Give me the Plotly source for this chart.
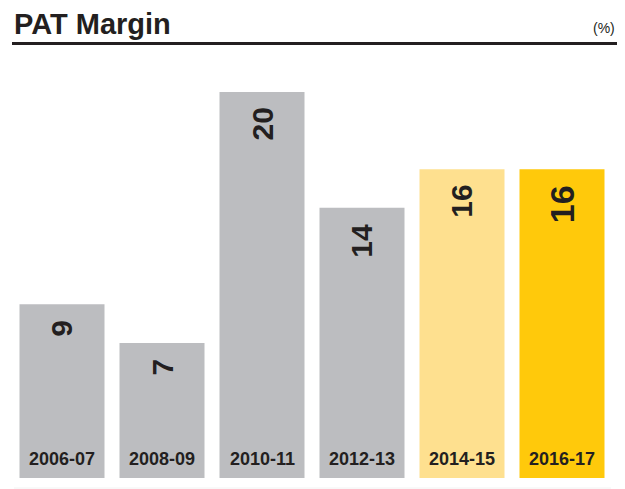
import plotly.graph_objects as go

categories = ["2006-07", "2008-09", "2010-11", "2012-13", "2014-15", "2016-17"]
values = [9, 7, 20, 14, 16, 16]
bar_colors = ["#bcbdc0", "#bcbdc0", "#bcbdc0", "#bcbdc0", "#fee08f", "#ffc90b"]
value_font_sizes = [30, 30, 30, 30, 30, 34]

title_text = "PAT Margin"
unit_text = "(%)"

OFF = 0  # body margin removed via post_script
W, H = 625, 489
ml, mr, mt, mb = 12, 13, 53, 11
plot_h = H - mt - mb
plot_w = W - ml - mr
ymax = 22.02

TXT = "#231f20"
FONT = "Liberation Sans, Arial, Helvetica, sans-serif"

fig = go.Figure()
fig.add_trace(go.Bar(
    x=categories, y=values,
    marker=dict(color=bar_colors, line=dict(width=0)),
    hoverinfo="x+y",
))

annotations = []
for c, v, s in zip(categories, values, value_font_sizes):
    annotations.append(dict(
        x=c, y=v, xref="x", yref="y", text=f"<b>{v}</b>", showarrow=False,
        textangle=-90, xanchor="center", yanchor="top", yshift=-14,
        font=dict(family=FONT, size=s, color=TXT),
    ))
    annotations.append(dict(
        x=c, y=0, xref="x", yref="y", text=f"<b>{c}</b>", showarrow=False,
        xanchor="center", yanchor="bottom", yshift=7,
        font=dict(family=FONT, size=18, color=TXT),
    ))

def py(pix):
    return (H - mb - (pix - OFF)) / plot_h

def px(pix):
    return ((pix - OFF) - ml) / plot_w

annotations.append(dict(
    x=px(12), y=py(23.5), xref="paper", yref="paper", text=f"<b>{title_text}</b>",
    showarrow=False, xanchor="left", yanchor="middle",
    font=dict(family=FONT, size=29, color=TXT),
))
annotations.append(dict(
    x=px(617), y=py(28), xref="paper", yref="paper", text=unit_text,
    showarrow=False, xanchor="right", yanchor="middle",
    font=dict(family=FONT, size=14, color=TXT),
))

shapes = [
    dict(type="line", xref="paper", yref="paper", x0=px(12), x1=px(617),
         y0=py(43.5), y1=py(43.5), line=dict(color=TXT, width=3)),
    dict(type="line", xref="paper", yref="paper", x0=px(14), x1=px(611),
         y0=py(488), y1=py(488), line=dict(color="#f2f2f2", width=1)),
]

fig.update_layout(
    width=W, height=H,
    margin=dict(l=ml, r=mr, t=mt, b=mb),
    paper_bgcolor="white", plot_bgcolor="white",
    showlegend=False, bargap=0.15,
    xaxis=dict(visible=False, type="category"),
    yaxis=dict(visible=False, range=[0, ymax]),
    annotations=annotations, shapes=shapes,
)

fig.write_html("out.html", config={"displayModeBar": False},
               post_script="document.body.style.margin='0';")
